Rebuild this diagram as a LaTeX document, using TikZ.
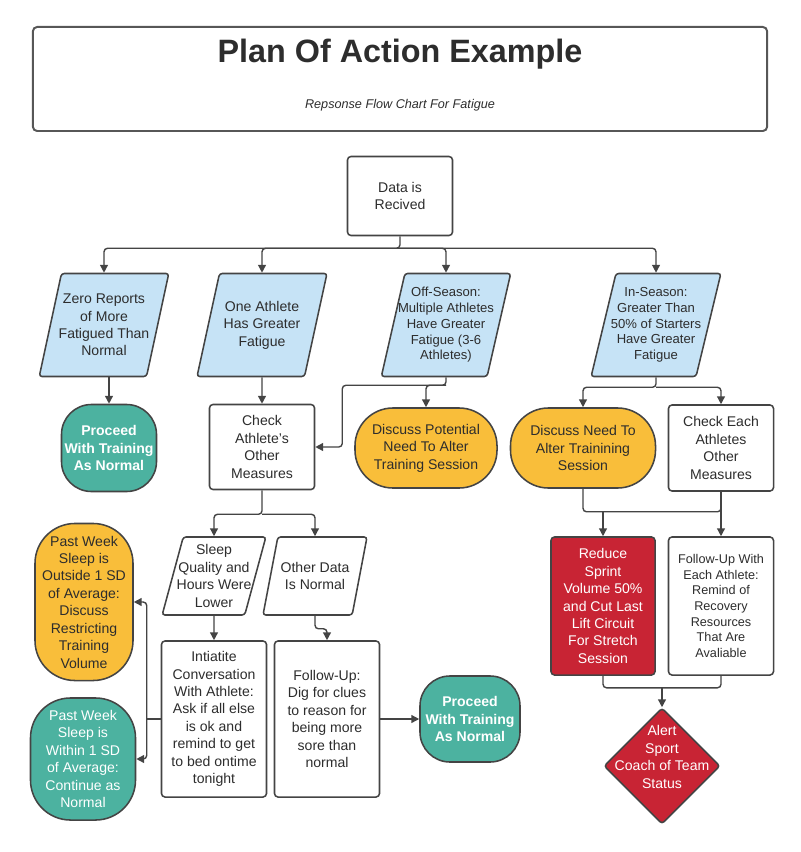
\documentclass[tikz,border=0pt]{standalone}
\usepackage{fontspec}
\setmainfont{Liberation Sans}
\usetikzlibrary{shapes.geometric,arrows.meta,calc}

\definecolor{linegray}{RGB}{68,68,68}
\definecolor{txtgray}{RGB}{45,45,45}
\definecolor{skyblue}{RGB}{198,227,246}
\definecolor{sunyellow}{RGB}{249,190,58}
\definecolor{seateal}{RGB}{76,178,160}
\definecolor{alertred}{RGB}{200,36,52}

\begin{document}
\begin{tikzpicture}[x=0.025cm,y=-0.025cm,
  base/.style={draw=linegray,line width=1.1pt,align=center,text=txtgray,inner xsep=1pt,font=\fontsize{10}{12.4}\selectfont},
  box/.style={base,rectangle,rounded corners=2.5pt,fill=white},
  para/.style={base,trapezium,trapezium left angle=76,trapezium right angle=104,trapezium stretches=true,inner xsep=-8pt,rounded corners=2pt,fill=skyblue},
  pill/.style={base,rectangle,rounded corners=0.95cm,fill=sunyellow},
  capsule/.style={base,rectangle,rounded corners=#1},
  small/.style={font=\fontsize{9.3}{11.2}\selectfont},
  conn/.style={draw=linegray,line width=1pt,rounded corners=2.5pt},
  arr/.style={conn,-{Triangle[length=5.5pt,width=5.5pt]}}]
\useasboundingbox (0,0) rectangle (800,852);

% Title
\node (titlebox) at (400,79) [draw=linegray!90,line width=1.4pt,rounded corners=3pt,minimum width=18.35cm,minimum height=2.6cm] {};
\node (title) at (400,54) [text=txtgray,font=\fontsize{23}{27}\selectfont\bfseries] {Plan Of Action Example};
\node (subtitle) at (400,105) [text=txtgray,font=\fontsize{9}{11}\selectfont\itshape] {Repsonse Flow Chart For Fatigue};

% Data
\node (data) at (400,196) [box,minimum width=2.625cm,minimum height=1.975cm] {Data is\\Recived};

% Cases
\node (zero) at (104,325) [para,minimum width=3.25cm,minimum height=2.575cm] {Zero Reports\\of More\\Fatigued Than\\Normal};
\node (one) at (262,325) [para,minimum width=3.25cm,minimum height=2.575cm] {One Athlete\\Has Greater\\Fatigue};
\node (off) at (446,325) [para,small,minimum width=3.25cm,minimum height=2.575cm] {Off-Season:\\Multiple Athletes\\Have Greater\\Fatigue (3-6\\Athletes)};
\node (inseason) at (656,325) [para,small,minimum width=3.25cm,minimum height=2.575cm] {In-Season:\\Greater Than\\50\% of Starters\\Have Greater\\Fatigue};

\coordinate (dj) at ($(data.south)+(0,12)$);
\draw[arr] (data.south) -- (dj) -| (zero.north);
\draw[arr] (dj) -| (one.north);
\draw[arr] (dj) -| (off.north);
\draw[arr] (dj) -| (inseason.north);

% Second row
\node (proceedA) at (109,448) [capsule=0.75cm,fill=seateal,text=white,font=\fontsize{10}{12.4}\selectfont\bfseries,minimum width=2.375cm,minimum height=2.175cm] {Proceed\\With Training\\As Normal};
\node (check) at (262,447) [box,minimum width=2.625cm,minimum height=2.125cm] {Check\\Athlete's\\Other\\Measures};
\node (potential) at (426,448) [pill,minimum width=3.55cm,minimum height=2cm] {Discuss Potential\\Need To Alter\\Training Session};
\node (needalter) at (583,448) [pill,minimum width=3.625cm,minimum height=2cm] {Discuss Need To\\Alter Trainining\\Session};
\node (checkeach) at (721,448) [box,minimum width=2.625cm,minimum height=2.15cm] {Check Each\\Athletes\\Other\\Measures};

\draw[arr] (proceedA.north |- zero.south) -- (proceedA.north);
\draw[arr] (one.south) -- (check.north);
\coordinate (oj) at ($(off.south)+(0,8)$);
\coordinate (obend) at ($(check.east)+(27,0)$);
\draw[arr] (off.south) -- (oj) -| (potential.north);
\draw[arr] (oj) -| (obend) -- (check.east);
\coordinate (ij) at ($(inseason.south)+(0,10)$);
\draw[arr] (inseason.south) -- (ij) -| (needalter.north);
\draw[arr] (ij) -| (checkeach.north);

% In-season actions
\node (reduce) at (603,606) [box,fill=alertred,text=white,minimum width=2.6cm,minimum height=3.45cm] {Reduce\\Sprint\\Volume 50\%\\and Cut Last\\Lift Circuit\\For Stretch\\Session};
\node (followeach) at (721,606) [box,small,font=\fontsize{9}{11.1}\selectfont,minimum width=2.625cm,minimum height=3.45cm] {Follow-Up With\\Each Athlete:\\Remind of\\Recovery\\Resources\\That Are\\Avaliable};
\node (alert) at (662,766) [diamond,draw=linegray,line width=1.1pt,fill=alertred,rounded corners=2pt,inner sep=0pt,minimum width=2.9cm,minimum height=2.9cm] {};
\node (alerttext) at (662,757) [align=center,text=white,font=\fontsize{10}{12.4}\selectfont] {Alert\\Sport\\Coach of Team\\Status};

\coordinate (mj) at ($(needalter.south)+(0,23)$);
\draw[conn] (needalter.south) -- (mj) -| (checkeach.south);
\draw[arr] (checkeach.south) -- (followeach.north);
\draw[arr] (mj -| reduce.north) -- (reduce.north);
\coordinate (bj) at ($(reduce.south)+(0,12)$);
\draw[conn] (reduce.south) -- (bj) -| (followeach.south);
\draw[arr] (bj -| alert.north) -- (alert.north);

% One athlete branch
\node (sleep) at (214,576) [para,minimum width=2.6cm,minimum height=1.95cm,fill=white] {Sleep\\Quality and\\Hours Were\\Lower};
\node (otherdata) at (315,576) [para,minimum width=2.6cm,minimum height=1.95cm,fill=white] {Other Data\\Is Normal};
\node (initiate) at (214,719) [box,minimum width=2.625cm,minimum height=3.9cm] {Intiatite\\Conversation\\With Athlete:\\Ask if all else\\is ok and\\remind to get\\to bed ontime\\tonight};
\node (followup) at (327,719) [box,minimum width=2.625cm,minimum height=3.9cm] {Follow-Up:\\Dig for clues\\to reason for\\being more\\sore than\\normal};
\node (proceedB) at (470,719) [capsule=0.75cm,fill=seateal,text=white,font=\fontsize{10}{12.4}\selectfont\bfseries,minimum width=2.5cm,minimum height=2.15cm] {Proceed\\With Training\\As Normal};
\node (outside) at (84,602) [capsule=1cm,fill=sunyellow,minimum width=2.45cm,minimum height=3.925cm] {Past Week\\Sleep is\\Outside 1 SD\\of Average:\\Discuss\\Restricting\\Training\\Volume};
\node (within) at (83,759) [capsule=1cm,fill=seateal,text=white,minimum width=2.625cm,minimum height=3.05cm] {Past Week\\Sleep is\\Within 1 SD\\of Average:\\Continue as\\Normal};

\coordinate (cj) at ($(check.south)+(0,24)$);
\draw[arr] (check.south) -- (cj) -| (sleep.north);
\draw[arr] (cj) -| (otherdata.north);
\draw[arr] (sleep.south) -- (initiate.north);
\draw[arr] (otherdata.south) -- ++(0,13) -| (followup.north);
\draw[arr] (followup.east) -- (proceedB.west);
\coordinate (lj) at ($(initiate.west)+(-14,0)$);
\draw[conn] (initiate.west) -- (lj);
\draw[arr] (lj) |- (outside.east);
\draw[arr] (lj) |- (within.east);
\end{tikzpicture}
\end{document}
